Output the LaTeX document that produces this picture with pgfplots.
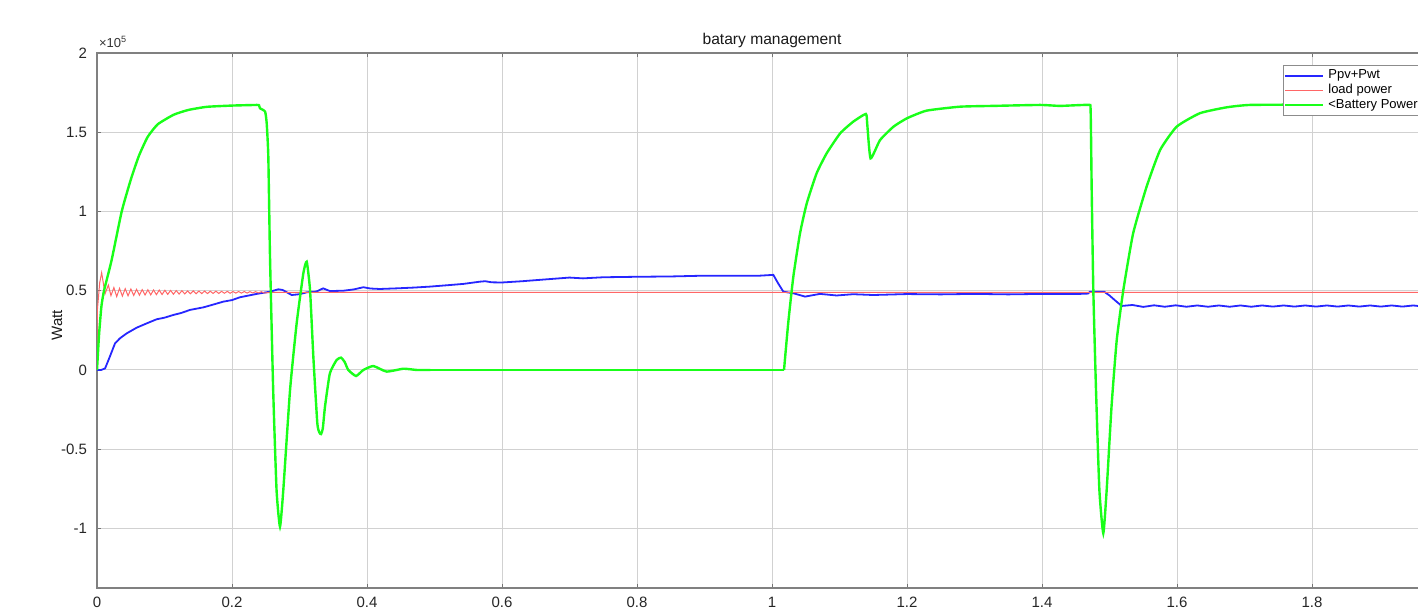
\documentclass[border=0pt]{standalone}
\usepackage{fontspec}
\setmainfont{Liberation Sans}
\usepackage{pgfplots}
\pgfplotsset{compat=1.18}
\definecolor{mblue}{rgb}{0.15,0.15,1}
\definecolor{mred}{rgb}{1,0.4,0.4}
\definecolor{mgreen}{rgb}{0.1,1,0.1}
\begin{document}
\begin{tikzpicture}
\begin{axis}[
 scale only axis, width=675pt, height=267.5pt,
 at={(0,0)}, anchor=origin,
 xmin=0, xmax=2, ymin=-1.375, ymax=2,
 xtick={0,0.2,0.4,0.6,0.8,1,1.2,1.4,1.6,1.8},
 xticklabels={0,0.2,0.4,0.6,0.8,1,1.2,1.4,1.6,1.8},
 ytick={-1,-0.5,0,0.5,1,1.5,2},
 yticklabels={-1,-0.5,0,0.5,1,1.5,2},
 grid=major, major grid style={black!18, line width=0.5pt},
 axis line style={black!50, line width=0.6pt},
 tick style={black!55, line width=0.5pt}, tick align=inside, major tick length=2.2pt,
 ticklabel style={font=\fontsize{7.5}{9}\selectfont, text=black!85},
 xticklabel style={yshift=-1pt},
 yticklabel style={xshift=-1.5pt},
 legend style={at={(0.8785,0.9776)}, anchor=north west, draw=black!45, fill=white,
   font=\fontsize{6.5}{7.5}\selectfont, inner sep=0.3pt, row sep=-2.8pt, cells={anchor=west}},
 legend image code/.code={\draw[#1] (0pt,0pt) -- (19pt,0pt);},
]
\addplot[mblue, line width=0.9pt] coordinates {
(0,0) (0.006,0.0) (0.012,0.01) (0.019,0.084) (0.0267,0.168) (0.034,0.2) (0.044,0.231)
(0.0588,0.267) (0.0736,0.294) (0.0884,0.32) (0.1,0.33) (0.113,0.347) (0.125,0.36)
(0.1378,0.379) (0.1575,0.395) (0.17,0.41) (0.187,0.431) (0.2,0.441) (0.2119,0.459)
(0.2366,0.48) (0.2563,0.494) (0.2686,0.509) (0.275,0.505) (0.2884,0.473) (0.30,0.478)
(0.3107,0.49) (0.325,0.495) (0.335,0.515) (0.345,0.498) (0.365,0.50) (0.38,0.508)
(0.3946,0.522) (0.405,0.514) (0.419,0.511) (0.444,0.515) (0.47,0.52) (0.4933,0.526)
(0.52,0.535) (0.5427,0.543) (0.567,0.557) (0.575,0.56) (0.585,0.553) (0.6,0.552)
(0.63,0.56) (0.66,0.57) (0.7,0.583) (0.72,0.578) (0.75,0.585) (0.8,0.588) (0.85,0.59)
(0.9,0.595) (0.95,0.594) (0.982,0.595) (1.002,0.6) (1.009,0.547) (1.0168,0.494)
(1.0316,0.484) (1.049,0.463) (1.071,0.48) (1.0958,0.47) (1.12,0.478) (1.15,0.473)
(1.2,0.479) (1.25,0.477) (1.3,0.48) (1.35,0.477) (1.4,0.48) (1.45,0.479) (1.468,0.482)
(1.471,0.494) (1.492,0.494) (1.50,0.47) (1.508,0.44) (1.518,0.404)
(1.534,0.41) (1.55,0.398) (1.566,0.408) (1.582,0.399) (1.598,0.408) (1.614,0.399)
(1.63,0.407) (1.646,0.399) (1.662,0.407) (1.678,0.399) (1.694,0.407) (1.71,0.399)
(1.726,0.407) (1.742,0.4) (1.758,0.407) (1.774,0.4) (1.79,0.407) (1.806,0.4)
(1.822,0.407) (1.838,0.4) (1.854,0.407) (1.87,0.4) (1.886,0.407) (1.902,0.4)
(1.918,0.407) (1.934,0.4) (1.95,0.407) (1.966,0.4) (2,0.405)
};
\addlegendentry{Ppv+Pwt}
\addplot[mred, line width=0.5pt] coordinates {
(0,0) (0.0003,0.3) (0.0006,0.38) (0.004,0.55) (0.0069,0.614) (0.0119,0.48) (0.0168,0.536)
(0.0207,0.469)
(0.0250,0.520) (0.0292,0.463) (0.0334,0.515) (0.0376,0.466) (0.0418,0.513) (0.0460,0.468)
(0.0502,0.511) (0.0544,0.470) (0.0586,0.509) (0.0628,0.472) (0.0670,0.507) (0.0712,0.473)
(0.0754,0.506) (0.0796,0.474) (0.0838,0.505) (0.0880,0.475) (0.0922,0.504) (0.0964,0.476)
(0.1006,0.503) (0.1048,0.477) (0.1090,0.502) (0.1132,0.478) (0.1174,0.501) (0.1216,0.479)
(0.1258,0.500) (0.1300,0.480) (0.1342,0.499) (0.1384,0.481) (0.1426,0.499) (0.1468,0.481)
(0.1510,0.498) (0.1552,0.482) (0.1594,0.498) (0.1636,0.482) (0.1678,0.497) (0.1720,0.483)
(0.1762,0.497) (0.1804,0.483) (0.1846,0.496) (0.1888,0.484) (0.1930,0.496) (0.1972,0.484)
(0.2014,0.495) (0.2056,0.485) (0.2098,0.495) (0.2140,0.485) (0.2182,0.495) (0.2224,0.485)
(0.2266,0.494) (0.2308,0.486) (0.2350,0.494) (0.2392,0.486) (0.2434,0.494) (0.2476,0.486)
(0.26,0.49) (2,0.49)
};
\addlegendentry{load power}
\addplot[mgreen, line width=1.2pt, smooth, tension=0.3] coordinates {
(0,0) (0.003,0.22) (0.0065,0.40) (0.0104,0.50) (0.0217,0.694) (0.0366,1.0) (0.05,1.2)
(0.062,1.35) (0.075,1.47) (0.09,1.55) (0.1135,1.61) (0.135,1.64) (0.1625,1.66)
(0.2,1.668) (0.2366,1.672) (0.24,1.670) (0.2415,1.651) (0.249,1.63) (0.2514,1.556)
(0.2538,1.346) (0.2563,0.715) (0.261,-0.126) (0.266,-0.757) (0.2711,-0.989)
(0.276,-0.757) (0.286,-0.126) (0.2958,0.295) (0.3057,0.61) (0.3107,0.683) (0.3156,0.505)
(0.3205,0.084) (0.3264,-0.336) (0.3295,-0.395) (0.3319,-0.404) (0.3345,-0.37)
(0.3378,-0.23) (0.345,-0.021) (0.355,0.063) (0.3615,0.078) (0.367,0.05) (0.3723,0)
(0.3837,-0.038) (0.3946,0) (0.4094,0.025) (0.429,-0.01) (0.454,0.008) (0.474,0.0) (0.494,0)
};
\addlegendentry{<Battery Power}
\addplot[mgreen, line width=1.2pt, forget plot] coordinates {
(0.494,0) (0.7,0) (1.0178,0)
};
\addplot[mgreen, line width=1.2pt, smooth, tension=0.3, forget plot] coordinates {
(1.0178,0) (1.024,0.295) (1.0316,0.589) (1.0415,0.862) (1.0514,1.05) (1.066,1.24)
(1.081,1.367) (1.101,1.493) (1.1205,1.567) (1.139,1.615) (1.141,1.556) (1.146,1.335)
(1.16,1.45) (1.18,1.535) (1.2,1.588) (1.229,1.636) (1.2785,1.661) (1.328,1.666)
(1.397,1.672) (1.427,1.666) (1.4686,1.672) (1.472,1.64) (1.4736,1.136) (1.476,0.505)
(1.48,-0.126) (1.485,-0.757) (1.4908,-1.03) (1.4958,-0.757) (1.503,-0.23) (1.5107,0.189)
(1.5205,0.505) (1.535,0.862) (1.555,1.157) (1.575,1.388) (1.5995,1.535) (1.634,1.62)
(1.6736,1.657) (1.708,1.672) (1.8,1.674) (1.9,1.674) (2,1.674)
};
\end{axis}
\node[font=\fontsize{7.8}{9}\selectfont, anchor=base, text=black!90] at (337.5pt,162.5pt) {batary management};
\node[font=\fontsize{6.5}{8}\selectfont, anchor=base west, inner sep=0pt, text=black!80] at (0.8pt,161pt) {×10\textsuperscript{5}};
\node[rotate=90, font=\fontsize{7.5}{9}\selectfont, text=black!90] at (-20pt,22.5pt) {Watt};
\pgfresetboundingbox
\useasboundingbox (-48.5pt,-121.5pt) rectangle (660.5pt,185pt);
\end{tikzpicture}
\end{document}
